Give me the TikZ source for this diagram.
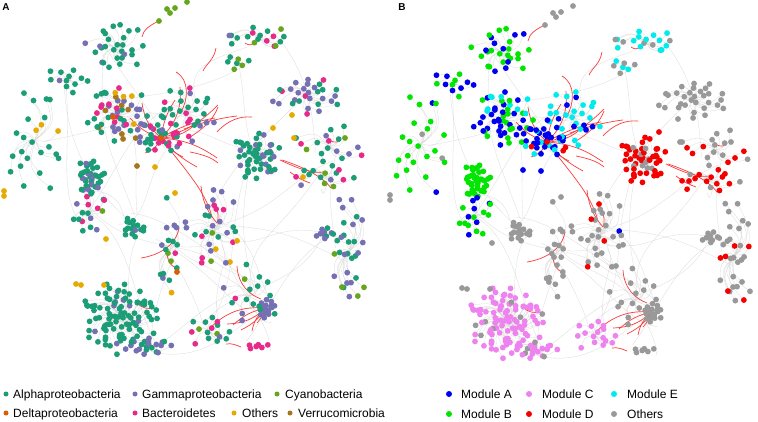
\documentclass[tikz,border=0pt]{standalone}
\usepackage{fontspec}
\setmainfont{Liberation Sans}
% phylum colours (panel A)
\definecolor{pA}{HTML}{1B9E77}
\definecolor{pG}{HTML}{7570B3}
\definecolor{pC}{HTML}{66A61E}
\definecolor{pD}{HTML}{D95F02}
\definecolor{pB}{HTML}{E7298A}
\definecolor{pO}{HTML}{E6AB02}
\definecolor{pV}{HTML}{A6761D}
% module colours (panel B)
\definecolor{mA}{RGB}{0,0,240}
\definecolor{mB}{RGB}{0,230,0}
\definecolor{mC}{RGB}{238,130,238}
\definecolor{mD}{RGB}{245,0,0}
\definecolor{mE}{RGB}{0,235,235}
\definecolor{mO}{RGB}{153,153,153}
\definecolor{redlink}{RGB}{250,60,60}
% palettes, ten entries each
\def\phT{{"pA","pA","pA","pG","pA","pA","pA","pA","pA","pA"}}
\def\phM{{"pA","pB","pG","pA","pA","pA","pO","pG","pB","pV"}}
\def\phP{{"pB","pB","pA","pB","pG","pA","pA","pG","pB","pA"}}
\def\phG{{"pG","pG","pB","pG","pG","pA","pG","pB","pG","pA"}}
\def\phW{{"pA","pA","pC","pA","pB","pA","pC","pA","pG","pA"}}
\def\phL{{"pA","pA","pA","pO","pA","pG","pA","pA","pA","pA"}}
\def\phN{{"pB","pA","pA","pG","pA","pB","pC","pA","pG","pA"}}
\def\phQ{{"pB","pA","pG","pG","pA","pA","pA","pA","pB","pG"}}
\def\phR{{"pA","pA","pA","pG","pA","pA","pA","pA","pG","pA"}}
\def\phS{{"pG","pA","pB","pG","pC","pA","pG","pA","pA","pA"}}
\def\phV{{"pG","pG","pA","pG","pA","pC","pG","pA","pG","pA"}}
\def\phU{{"pG","pG","pG","pA","pG","pG","pG","pA","pG","pG"}}
\def\phX{{"pA","pG","pA","pB","pO","pG","pA","pC","pG","pA"}}
\def\phK{{"pB","pB","pB","pB","pB","pB","pB","pB","pB","pB"}}
\def\moB{{"mB","mB","mB","mB","mB","mB","mB","mB","mB","mB"}}
\def\moBA{{"mB","mB","mA","mB","mB","mB","mA","mB","mB","mB"}}
\def\moAB{{"mA","mB","mA","mB","mA","mA","mB","mA","mB","mA"}}
\def\moAX{{"mA","mA","mB","mA","mA","mB","mA","mE","mB","mA"}}
\def\moBO{{"mB","mB","mB","mO","mB","mB","mB","mB","mA","mB"}}
\def\moC{{"mC","mC","mC","mC","mC","mC","mC","mC","mC","mO"}}
\def\moD{{"mD","mD","mD","mD","mO","mD","mD","mD","mD","mD"}}
\def\moDO{{"mD","mO","mD","mD","mO","mD","mD","mO","mD","mD"}}
\def\moEA{{"mE","mA","mE","mA","mE","mA","mE","mA","mA","mE"}}
\def\moEO{{"mE","mO","mE","mE","mO","mE","mO","mE","mE","mO"}}
\def\moH{{"mA","mA","mE","mD","mA","mA","mE","mA","mD","mA"}}
\def\moO{{"mO","mO","mO","mO","mO","mO","mO","mO","mO","mO"}}
\def\moOD{{"mO","mO","mO","mD","mO","mO","mO","mO","mD","mO"}}
\def\moOM{{"mO","mO","mD","mO","mA","mO","mO","mO","mD","mO"}}
% cluster centres, for the long links
\def\ccx{{115,70,260,238,307,35,118,91,89,161,188,257,324,330,349,214,325,133,120,148,209,266,249,259,169}}
\def\ccy{{48,80,38,62,95,140,115,176,211,138,112,156,176,146,251,231,234,228,316,346,331,308,296,346,251}}

% #1 = 0: phylum colours, 1: module colours; #2 = 0: links, 1: dots
\newcommand{\drawnet}[2]{%
  \pgfmathsetseed{2718}
  \foreach \cx/\cy/\rx/\ry/\n/\pa/\pb in {
      115/48/30/24/28/T/BA, 70/80/25/12/12/T/AB, 260/38/35/12/18/W/EO,
      238/62/14/8/7/W/EO, 307/95/36/18/30/G/O, 35/140/32/55/24/L/BO,
      118/115/30/29/55/M/AX, 91/176/13/18/35/T/B, 89/211/20/25/18/N/BA,
      161/138/22/16/32/P/H, 188/112/30/30/30/Q/EA, 257/156/24/22/50/R/D,
      324/176/35/12/15/S/DO, 330/146/35/20/18/S/OD, 349/251/18/55/30/V/OD,
      214/231/30/40/32/X/OM, 325/234/10/6/10/U/O, 133/228/12/10/16/T/O,
      120/316/36/34/95/T/C, 148/346/22/10/22/U/C, 209/331/25/15/16/N/C,
      266/308/10/10/16/U/O, 249/296/30/30/15/X/O, 259/346/14/3/6/K/O,
      169/251/10/55/18/X/O}{
    \foreach \i in {1,...,\n}{
      \pgfmathsetmacro\ang{\i*137.508+25*rand}
      \pgfmathsetmacro\rad{((\i-0.5)/\n)^0.6*(0.85+0.3*rnd)}
      \pgfmathsetmacro\px{\cx+\rx*\rad*cos(\ang)}
      \pgfmathsetmacro\py{\cy+\ry*\rad*sin(\ang)}
      \pgfmathtruncatemacro\ka{9.99*rnd}
      \pgfmathtruncatemacro\kb{9.99*rnd}
      \ifnum#2=0
        \pgfmathsetmacro\qx{\cx+0.5*(\px-\cx)-0.3*(\py-\cy)}
        \pgfmathsetmacro\qy{\cy+0.5*(\py-\cy)+0.3*(\px-\cx)}
        \draw[linkedge] (\cx,\cy) .. controls (\qx,\qy) .. (\px,\py);
      \else
        \ifnum#1=0
          \expandafter\let\expandafter\curpal\csname ph\pa\endcsname
          \pgfmathparse{\curpal[\ka]}%
        \else
          \expandafter\let\expandafter\curpal\csname mo\pb\endcsname
          \pgfmathparse{\curpal[\kb]}%
        \fi
        \edef\dotcol{\pgfmathresult}%
        \fill[\dotcol] (\px,\py) circle[radius=2.9pt];
      \fi
    }
  }
  \ifnum#2=0
  \foreach \k in {1,...,90}{
    \pgfmathtruncatemacro\ia{24.99*rnd}
    \pgfmathtruncatemacro\ib{24.99*rnd}
    \pgfmathsetmacro\ax{\ccx[\ia]+15*rand}
    \pgfmathsetmacro\ay{\ccy[\ia]+15*rand}
    \pgfmathsetmacro\bx{\ccx[\ib]+15*rand}
    \pgfmathsetmacro\by{\ccy[\ib]+15*rand}
    \pgfmathsetmacro\ux{\ax+(\bx-\ax)/3+30*rand}
    \pgfmathsetmacro\uy{\ay+(\by-\ay)/3+30*rand}
    \pgfmathsetmacro\vx{\ax+2*(\bx-\ax)/3+30*rand}
    \pgfmathsetmacro\vy{\ay+2*(\by-\ay)/3+30*rand}
    \pgfmathsetmacro\dd{veclen(\bx-\ax,\by-\ay)}
    \ifdim\dd pt<170pt
      \draw[linkedge] (\ax,\ay) .. controls (\ux,\uy) and (\vx,\vy) .. (\bx,\by);
    \fi
  }
  \fi
}

\newcommand{\extranodes}[1]{%
  \foreach \ex/\ey/\ca/\cb in {167/9/pC/mO, 175/8/pC/mO, 170/13/pC/mO, 159/21/pC/mO,
      187/2/pC/mO, 161/138/pD/mD, 273/128/pO/mD, 294/138/pO/mO, 292/115/pO/mO,
      303/177/pO/mD, 177/272/pD/mO, 113/117/pD/mA, 4/191/pO/mO, 4/196/pO/mO,
      76/284/pO/mO, 81/285/pO/mO, 104/285/pO/mO, 106/239/pO/mO, 155/167/pO/mA,
      175/193/pO/mO, 137/166/pV/mA}{
    \ifnum#1=0 \fill[\ca] (\ex,\ey) circle[radius=2.9pt];
    \else \fill[\cb] (\ex,\ey) circle[radius=2.9pt];\fi
  }
}

\newcommand{\rededges}{%
  \coordinate (hub) at (161,138);
  \coordinate (ghub) at (266,308);
  \foreach \ex/\ey/\bd in {142/103/20, 180/87/-25, 218/105/-15, 215/118/10,
      197/123/-20, 217/158/15, 197/167/-10, 145/153/25, 183/157/-15,
      130/118/15, 175/100/12}
    \draw[rededge] (hub) to[bend left=\bd] (\ex,\ey);
  \draw[rededge] (hub) .. controls (185,170) and (205,190) .. (212,217);
  \foreach \ex/\ey/\bd in {209/329/25, 227/324/-20, 233/325/15, 241/330/-15,
      252/331/20, 257/323/-10}
    \draw[rededge] (\ex,\ey) to[bend left=\bd] (ghub);
  \draw[rededge] (159,21) .. controls (150,25) and (143,30) .. (142,37);
  \draw[rededge] (176,72) .. controls (190,80) and (188,100) .. (181,112);
  \draw[rededge] (216,48) .. controls (214,60) and (206,64) .. (203,71);
  \draw[rededge] (245,43) .. controls (249,46) and (252,45) .. (255,42);
  \draw[rededge] (190,137) .. controls (205,128) and (214,118) .. (218,107);
  \draw[rededge] (217,132) .. controls (228,120) and (240,116) .. (252,117);
  \draw[rededge] (190,152) .. controls (205,155) and (212,158) .. (218,163);
  \draw[rededge] (280,160) .. controls (297,168) and (312,174) .. (323,172);
  \draw[rededge] (290,172) .. controls (298,178) and (304,181) .. (310,183);
  \draw[rededge] (282,160) .. controls (303,167) and (322,176) .. (331,188);
  \draw[rededge] (331,141) .. controls (335,143) and (338,142) .. (341,140);
  \draw[rededge] (184,129) .. controls (200,123) and (220,118) .. (237,116);
  \draw[rededge] (141,258) .. controls (160,255) and (176,245) .. (179,228);
  \draw[rededge] (167,254) .. controls (168,262) and (171,266) .. (176,268);
  \draw[rededge] (137,303) .. controls (143,309) and (148,309) .. (154,308);
  \draw[rededge] (237,266) .. controls (238,285) and (250,295) .. (261,299);
  \draw[rededge] (226,344) .. controls (232,343) and (236,345) .. (241,347);
  \draw[rededge] (216,204) .. controls (218,213) and (219,218) .. (217,223);
  \draw[rededge] (201,186) .. controls (203,205) and (210,215) .. (217,223);
}

\begin{document}
\begin{tikzpicture}[x=1pt,y=-1pt,
    linkedge/.style={gray!28,line width=0.3pt},
    rededge/.style={redlink,line width=0.7pt},
    legtext/.style={anchor=base west,inner sep=0pt,font=\fontsize{12}{14}\selectfont},
    panel/.style={inner sep=0pt,font=\fontsize{10}{12}\selectfont\bfseries}]
\useasboundingbox (0,0) rectangle (758,422);
\fill[white] (0,0) rectangle (758,422);

\node[panel] (labA) at (6,7) {A};
\node[panel] (labB) at (402,7) {B};

% panel A, coloured by phylum
\begin{scope}
  \drawnet{0}{0}
  \rededges
  \drawnet{0}{1}
  \extranodes{0}
\end{scope}

% panel B, the same network coloured by module
\begin{scope}[shift={(386,4)}]
  \drawnet{1}{0}
  \rededges
  \drawnet{1}{1}
  \extranodes{1}
\end{scope}

% legends
\foreach \dx/\dy/\tx/\col/\txt/\nm in {
    6/394/13/pA/Alphaproteobacteria/alpha, 135/394/142/pG/Gammaproteobacteria/gamma,
    277/394/285/pC/Cyanobacteria/cyano, 6/413/13/pD/Deltaproteobacteria/delta,
    135/413/142/pB/Bacteroidetes/bacte, 234/413/242/pO/Others/othA,
    290/413/298/pV/Verrucomicrobia/verru}{
  \fill[\col] (\dx,\dy) circle[radius=2.5pt];
  \node[legtext] (leg-\nm) at (\tx,\dy+4.5) {\txt};
}
\foreach \dx/\dy/\tx/\col/\txt/\nm in {
    449/394/461/mA/Module A/modA, 529/394/542/mC/Module C/modC,
    614/394/627/mE/Module E/modE, 449/414/461/mB/Module B/modB,
    529/414/542/mD/Module D/modD, 614/414/627/mO/Others/othB}{
  \fill[\col] (\dx,\dy) circle[radius=3pt];
  \node[legtext] (leg-\nm) at (\tx,\dy+4.5) {\txt};
}
\end{tikzpicture}
\end{document}
